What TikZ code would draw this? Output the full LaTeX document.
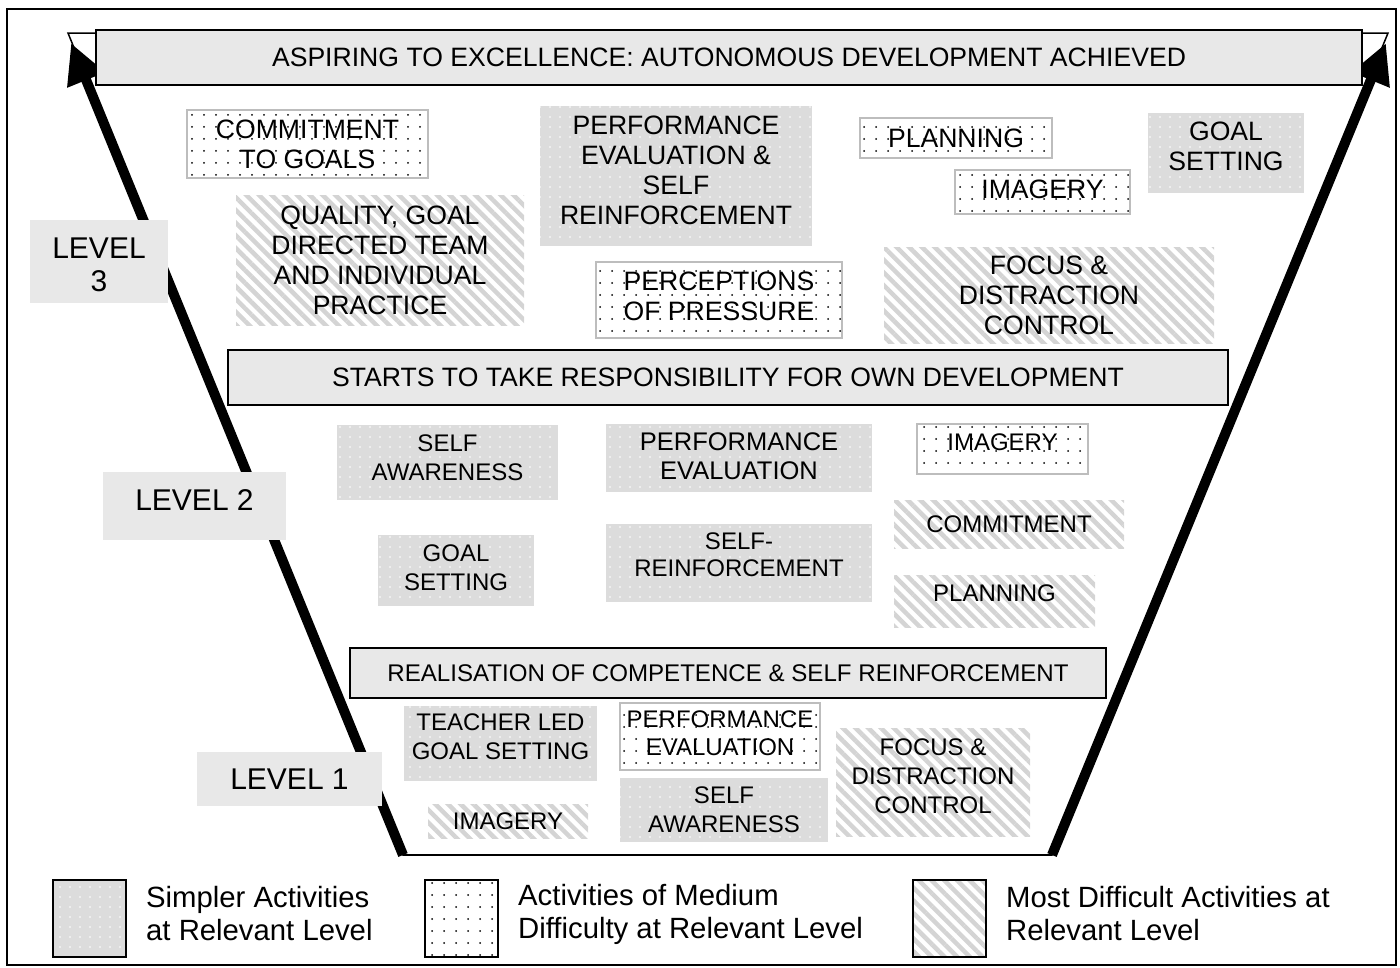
\documentclass[tikz,border=0pt]{standalone}
\usepackage{fontspec}
\setmainfont{Liberation Sans}
\usetikzlibrary{arrows.meta,patterns.meta}
\definecolor{bannerfill}{HTML}{E8E8E8}
\definecolor{simplefill}{HTML}{DCDCDC}
\definecolor{medborder}{HTML}{BDBDBD}
\definecolor{stripe}{HTML}{D4D4D4}
\newcommand\szA{\fontsize{26.6}{30}\selectfont}
\newcommand\szB{\fontsize{24}{29}\selectfont}
\newcommand\szBB{\fontsize{25.5}{30}\selectfont}
\newcommand\szC{\fontsize{24.1}{28}\selectfont}
\newcommand\szL{\fontsize{30}{33}\selectfont}
\newcommand\szG{\fontsize{29.3}{33}\selectfont}
\tikzset{
 box/.style={inner sep=0pt, align=center, text=black},
 banner/.style={box, draw=black, line width=2pt, fill=bannerfill},
 lvlbox/.style={box, fill=bannerfill},
 simpleact/.style={box, preaction={fill=simplefill}, pattern={Dots[distance=10pt,radius=0.9pt]}, pattern color=white},
 mediumact/.style={box, preaction={fill=white}, pattern={Dots[distance=12pt,radius=1pt]}, pattern color=black, draw=medborder, line width=1.5pt},
 hardact/.style={box, preaction={fill=white}, pattern={Lines[angle=-45,distance=9pt,line width=4.5pt]}, pattern color=stripe},
 legbox/.style={draw=black, line width=2pt, minimum width=73pt, minimum height=77pt, inner sep=0pt},
 legtext/.style={anchor=west, align=left, font=\szG, inner sep=0pt},
 sidearrow/.style={line width=10pt, -{Triangle[length=40pt,width=38pt]}}
}
% #1 style, #2 name, #3 cx, #4 cy, #5 width, #6 height, #7 upward text shift, #8 text
\newcommand\actnode[8]{%
 \node[#1, minimum width=#5pt, minimum height=#6pt] (#2) at (#3,#4) {};
 \node[box] (#2t) at ([yshift=#7pt]#2.center) {#8};}
\begin{document}
\begin{tikzpicture}[x=1pt,y=-1pt]
\useasboundingbox (0,0) rectangle (1400,967);
\draw[line width=2pt] (7,9) rectangle (1396,965);
% funnel
\coordinate (tl) at (68,33);
\coordinate (tr) at (1388,33);
\coordinate (br) at (1052,855);
\coordinate (bl) at (403,855);
\coordinate (tipl) at (71,43);
\coordinate (tipr) at (1386,43);
\draw[line width=1.5pt] (tl) -- (tr) -- (br) -- (bl) -- cycle;
\draw[line width=2.5pt] (bl) -- (br);
\draw[sidearrow] (bl) -- (tipl);
\draw[sidearrow] (br) -- (tipr);
% banners
\node[banner, minimum width=1266pt, minimum height=55pt, font=\szA] (b1) at (729,57.5) {ASPIRING TO EXCELLENCE: AUTONOMOUS DEVELOPMENT ACHIEVED};
\node[banner, minimum width=1000pt, minimum height=55pt, font=\szA] (b2) at (728,377.5) {STARTS TO TAKE RESPONSIBILITY FOR OWN DEVELOPMENT};
\node[banner, minimum width=756pt, minimum height=50pt, font=\szC] (b3) at (728,673) {REALISATION OF COMPETENCE \& SELF REINFORCEMENT};
% levels
\begin{scope}[every node/.append style={font=\szL}]
\actnode{lvlbox}{l3}{99}{261.5}{138}{83}{-3}{LEVEL\\3}
\actnode{lvlbox}{l2}{194.5}{506}{183}{68}{6}{LEVEL 2}
\actnode{lvlbox}{l1}{289.5}{779}{185}{54}{0}{LEVEL 1}
\end{scope}
% level 3 activities
\begin{scope}[every node/.append style={font=\szA}]
\actnode{mediumact}{a31}{307.5}{144}{241}{68}{0}{COMMITMENT\\TO GOALS}
\actnode{simpleact}{a32}{676}{176}{272}{140}{6}{PERFORMANCE\\EVALUATION \&\\SELF\\REINFORCEMENT}
\actnode{mediumact}{a33}{956}{138}{192}{40}{0}{PLANNING}
\actnode{mediumact}{a34}{1042.5}{192}{175}{44}{3}{IMAGERY}
\actnode{simpleact}{a35}{1226}{153}{156}{80}{7}{GOAL\\SETTING}
\actnode{hardact}{a36}{380}{260}{288}{130}{0}{QUALITY, GOAL\\DIRECTED TEAM\\AND INDIVIDUAL\\PRACTICE}
\actnode{mediumact}{a37}{719}{300}{246}{76}{4}{PERCEPTIONS\\OF PRESSURE}
\actnode{hardact}{a38}{1049}{295}{330}{96}{0}{FOCUS \&\\DISTRACTION\\CONTROL}
\end{scope}
% level 2 activities
\begin{scope}[every node/.append style={font=\szB}]
\actnode{simpleact}{a21}{447.5}{462.5}{221}{75}{5}{SELF\\AWARENESS}
\actnode{simpleact}{a22}{739}{458}{266}{68}{2}{{\szBB PERFORMANCE}\\{\szBB EVALUATION}}
\actnode{mediumact}{a23}{1002.5}{449}{171}{50}{7}{IMAGERY}
\actnode{hardact}{a24}{1009}{524}{230}{48}{0}{COMMITMENT}
\actnode{simpleact}{a25}{456}{570.5}{156}{71}{3}{GOAL\\SETTING}
\actnode{simpleact}{a26}{739}{563}{266}{78}{8}{SELF-\\[-2pt]REINFORCEMENT}
\actnode{hardact}{a27}{994.5}{601}{201}{52}{8}{PLANNING}
\end{scope}
% level 1 activities
\begin{scope}[every node/.append style={font=\szB}]
\actnode{simpleact}{a11}{500.5}{743.5}{193}{75}{7}{TEACHER LED\\GOAL SETTING}
\actnode{mediumact}{a12}{720}{736.5}{200}{67}{3}{PERFORMANCE\\[-1pt]EVALUATION}
\actnode{hardact}{a13}{508}{821}{160}{34}{0}{IMAGERY}
\actnode{simpleact}{a14}{724}{810}{208}{64}{0}{SELF\\AWARENESS}
\actnode{hardact}{a15}{933}{782}{194}{108}{6}{FOCUS \&\\DISTRACTION\\CONTROL}
\end{scope}
% legend
\node[legbox, simpleact] (k1) at (89.5,918) {};
\node[legbox, mediumact, draw=black, line width=2pt] (k2) at (461.5,918) {};
\node[legbox, hardact, draw=black, line width=2pt] (k3) at (949,918) {};
\node[legtext] (t1) at (146,914) {Simpler Activities\\at Relevant Level};
\node[legtext] (t2) at (518,914) {Activities of Medium\\Difficulty at Relevant Level};
\node[legtext] (t3) at (1006,914) {Most Difficult Activities at\\Relevant Level};
\end{tikzpicture}
\end{document}
